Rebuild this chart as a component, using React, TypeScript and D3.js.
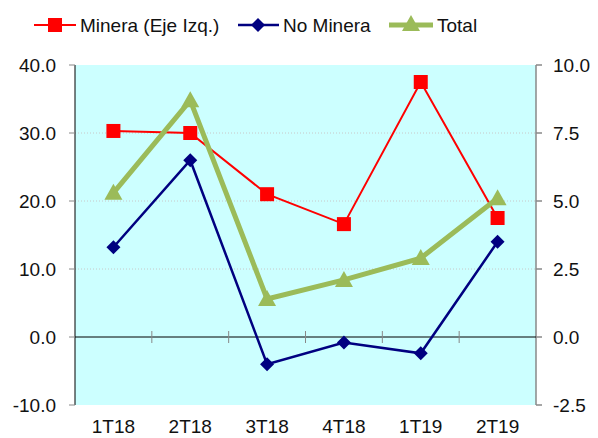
import React from 'react';
import * as d3 from 'd3';

const categories = ['1T18', '2T18', '3T18', '4T18', '1T19', '2T19'];
const minera = [30.3, 30.0, 21.0, 16.6, 37.5, 17.5];
const noMinera = [3.3, 6.5, -1.0, -0.2, -0.6, 3.5];
const total = [5.3, 8.7, 1.4, 2.1, 2.9, 5.1];
const leftTicks = [-10, 0, 10, 20, 30, 40];
const rightTicks = [-2.5, 0, 2.5, 5, 7.5, 10];

const W = 598;
const H = 438;
const m = { top: 65, right: 62, bottom: 33, left: 75 };

export default function App() {
  const x = d3.scaleBand<string>().domain(categories).range([m.left, W - m.right]);
  const yL = d3.scaleLinear().domain([-10, 40]).range([H - m.bottom, m.top]);
  const yR = d3.scaleLinear().domain([-2.5, 10]).range([H - m.bottom, m.top]);
  const cx = (c: string) => (x(c) ?? 0) + x.bandwidth() / 2;

  const lineL = d3.line<number>().x((_, i) => cx(categories[i])).y(d => yL(d));
  const lineR = d3.line<number>().x((_, i) => cx(categories[i])).y(d => yR(d));

  const font = { fontFamily: 'Liberation Sans, Arial, sans-serif', fontSize: 19, fill: '#111' };
  const red = '#FF0000';
  const navy = '#000080';
  const green = '#9BBB59';

  const square = (px: number, py: number, k: string) => (
    <rect key={k} x={px - 7} y={py - 7} width={14} height={14} fill={red} />
  );
  const diamond = (px: number, py: number, k: string) => (
    <path key={k} d={`M${px},${py - 7}L${px + 7},${py}L${px},${py + 7}L${px - 7},${py}Z`} fill={navy} />
  );
  const triangle = (px: number, py: number, k: string) => (
    <path key={k} d={`M${px},${py - 9}L${px + 9},${py + 7}L${px - 9},${py + 7}Z`} fill={green} />
  );

  const x0 = m.left;
  const x1 = W - m.right;
  const zeroY = yL(0);

  return (
    <svg width={W} height={H} style={{ position: 'absolute', left: 0, top: 0 }}>
      <rect x={0} y={0} width={W} height={H} fill="#fff" />
      <rect x={x0} y={m.top} width={x1 - x0} height={H - m.bottom - m.top} fill="#CCFFFF" />
      {/* gridlines */}
      {[10, 20, 30].map(t => (
        <line key={t} x1={x0} x2={x1} y1={yL(t)} y2={yL(t)} stroke="#c8c8c8" strokeWidth={1} strokeDasharray="1,2" />
      ))}
      {/* left axis */}
      <line x1={x0} x2={x0} y1={m.top} y2={H - m.bottom} stroke="#000" />
      {leftTicks.map(t => (
        <g key={t}>
          <line x1={x0 - 6} x2={x0} y1={yL(t)} y2={yL(t)} stroke="#888" />
          <text x={56} y={yL(t) + 7} textAnchor="end" {...font}>{t.toFixed(1)}</text>
        </g>
      ))}
      {/* right axis */}
      <line x1={x1} x2={x1} y1={m.top} y2={H - m.bottom} stroke="#888" strokeWidth={1.5} />
      {rightTicks.map(t => (
        <g key={t}>
          <line x1={x1} x2={x1 + 6} y1={yR(t)} y2={yR(t)} stroke="#888" strokeWidth={1.5} />
          <text x={553} y={yR(t) + 7} textAnchor="start" {...font}>{t.toFixed(1)}</text>
        </g>
      ))}
      {/* x axis at zero */}
      <line x1={x0} x2={x1} y1={zeroY} y2={zeroY} stroke="#000" />
      {categories.map((c, i) => (
        <g key={c}>
          {i > 0 && (
            <line x1={x(c)} x2={x(c)} y1={zeroY - 6} y2={zeroY + 6} stroke="#888" />
          )}
          <text x={cx(c)} y={H - 5} textAnchor="middle" {...font}>{c}</text>
        </g>
      ))}
      {/* series */}
      <path d={lineR(noMinera) ?? ''} fill="none" stroke={navy} strokeWidth={2.5} />
      {noMinera.map((v, i) => diamond(cx(categories[i]), yR(v), 'd' + i))}
      <path d={lineL(minera) ?? ''} fill="none" stroke={red} strokeWidth={2} />
      {minera.map((v, i) => square(cx(categories[i]), yL(v), 's' + i))}
      <path d={lineR(total) ?? ''} fill="none" stroke={green} strokeWidth={5} />
      {total.map((v, i) => triangle(cx(categories[i]), yR(v), 't' + i))}
      {/* legend */}
      <g>
        <line x1={34} x2={76} y1={25} y2={25} stroke={red} strokeWidth={2} />
        {square(55, 25, 'ls')}
        <text x={80} y={32} {...font}>Minera (Eje Izq.)</text>
        <line x1={238} x2={279} y1={25} y2={25} stroke={navy} strokeWidth={2.5} />
        {diamond(258, 25, 'ld')}
        <text x={283} y={32} {...font}>No Minera</text>
        <line x1={389} x2={433} y1={25} y2={25} stroke={green} strokeWidth={5} />
        {triangle(411, 24, 'lt')}
        <text x={437} y={32} {...font}>Total</text>
      </g>
    </svg>
  );
}
